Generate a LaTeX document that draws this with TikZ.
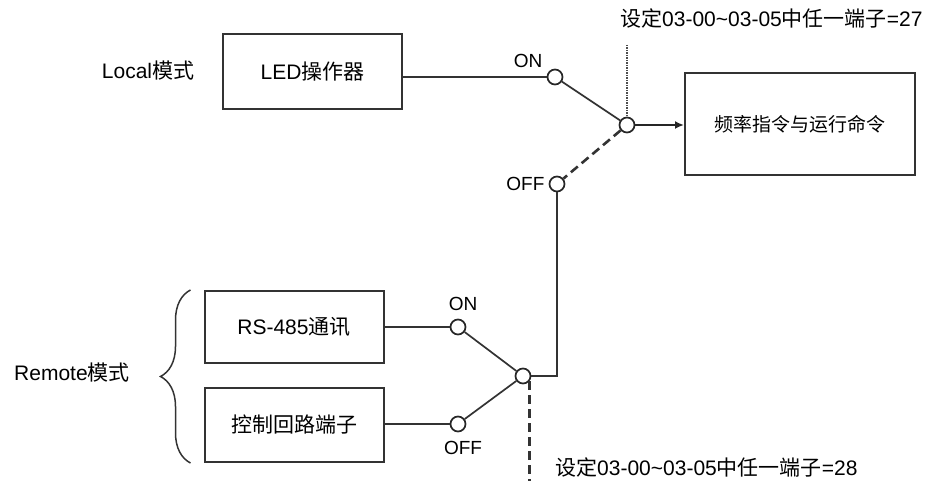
\documentclass[tikz,border=0pt]{standalone}
\usepackage{fontspec}
\setmainfont{Liberation Sans}
\newfontfamily\zhfont{Noto Sans CJK SC}
\usetikzlibrary{arrows.meta, positioning, decorations.pathreplacing}
\tikzset{
  box/.style={draw=black!80, line width=2pt, minimum height=75pt, minimum width=179pt, font=\fontsize{21}{25}\selectfont},
  sw/.style={draw=black!85, circle, line width=1.7pt, fill=white, minimum size=15pt, inner sep=0pt},
  wire/.style={draw=black!80, line width=2pt},
  arr/.style={-{Latex[length=9pt, width=8pt]}, draw=black!85, line width=2pt},
  lbl/.style={font=\fontsize{19}{22}\selectfont, inner sep=1pt},
  txt/.style={font=\fontsize{21}{25}\selectfont, inner sep=1pt},
}

\begin{document}
\begin{tikzpicture}[x=1pt, y=-1pt, node distance=4pt]
    \useasboundingbox (0,0) rectangle (940,481);
    % sources and target
    \node[box] (led) at (312.5,72) {LED{\zhfont 操作器}};
    \node[box, minimum height=72pt] (rs) at (294,327) {RS-485{\zhfont 通讯}};
    \node[box, minimum height=74pt] (term) at (294,425) {\zhfont 控制回路端子};
    \node[box, minimum width=230pt, minimum height=102pt, font=\fontsize{19}{23}\selectfont] (out) at (800,124) {\zhfont 频率指令与运行命令};
    \node[txt] (local) at (148,71) {Local{\zhfont 模式}};
    \node[txt] (remote) at (72,373) {Remote{\zhfont 模式}};
    % switch contacts
    \node[sw] (on1) at (555,77) {};
    \node[sw] (com1) at (627,125) {};
    \node[sw] (off1) at (557,184) {};
    \node[sw] (on2) at (458,327) {};
    \node[sw] (com2) at (523,376) {};
    \node[sw] (off2) at (458,424) {};
    \node[lbl] at (528,61) {ON};
    \node[lbl, left=3pt of off1] {OFF};
    \node[lbl, above=7pt of on2, xshift=5pt] {ON};
    \node[lbl, below=8pt of off2, xshift=5pt] {OFF};
    % notes
    \coordinate (tap1) at (627,45);
    \coordinate (tail2) at (530,481);
    \node[txt, anchor=west] (note1) at (619,18) {{\zhfont 设定}03-00\textasciitilde03-05{\zhfont 中任一端子}=27};
    \node[txt, anchor=west] (note2) at (554,467) {{\zhfont 设定}03-00\textasciitilde03-05{\zhfont 中任一端子}=28};
    % wiring
    \draw[wire] (led.east |- on1) -- (on1);
    \draw[wire, line width=1.7pt] (on1) -- (com1);
    \draw[wire, dash pattern=on 9pt off 5pt, line width=2.6pt] (com1) -- (off1);
    \draw[wire, dash pattern=on 1.5pt off 1pt, line width=2pt, draw=black!70] (tap1) -- (com1.north);
    \draw[arr] (com1.east) -- (out.west |- com1.east);
    \draw[wire] (off1.south) |- (com2.east);
    \draw[wire] (rs.east) -- (on2.west);
    \draw[wire] (term.east |- off2) -- (off2.west);
    \draw[wire, line width=1.7pt] (on2) -- (com2);
    \draw[wire, line width=1.7pt] (com2) -- (off2);
    \draw[wire, dash pattern=on 9pt off 5pt, line width=2.6pt] (com2.-40) -- (com2.-40 |- tail2);
    \draw[decorate, decoration={brace, amplitude=30pt}, wire, line width=1.5pt]
      ([xshift=-13pt]term.south west) -- ([xshift=-13pt]rs.north west);
\end{tikzpicture}
\end{document}
